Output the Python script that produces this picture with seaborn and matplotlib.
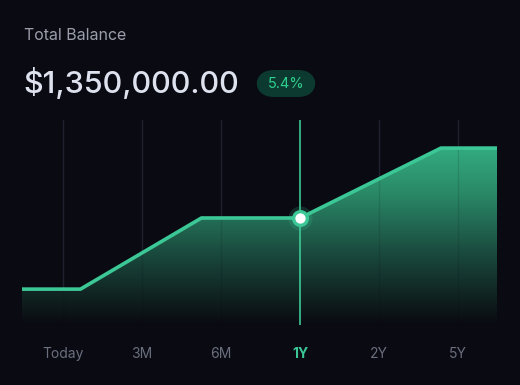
import numpy as np
import pandas as pd
import seaborn as sns
import matplotlib.pyplot as plt
from matplotlib.colors import LinearSegmentedColormap
from matplotlib.patches import FancyBboxPatch

# Chart data (x in tick units, balance on a 0-100 scale)
periods = ["Today", "3M", "6M", "1Y", "2Y", "5Y"]
x_points = [-0.52, 0.22, 1.75, 3.0, 4.78, 5.49]
balance = [17.5, 17.5, 52.2, 52.2, 86.3, 86.3]
selected = "1Y"
selected_value = 52.2
title = "Total Balance"
total = "$1,350,000.00"
change = "5.4%"

bg = "#0a0a12"
green = "#3cc896"
grid_col = "#222633"
label_col = "#6a6f7e"

sns.set_theme(style="dark")
plt.rcParams["font.family"] = ["Inter", "DejaVu Sans"]

fig = plt.figure(figsize=(5.2, 3.85), dpi=100, facecolor=bg)
ax = fig.add_axes([22 / 520, 60 / 385, 475 / 520, 205 / 385])
ax.set_facecolor(bg)

df = pd.DataFrame({"x": x_points, "balance": balance})

# gradient area under the line
cmap = LinearSegmentedColormap.from_list(
    "area", [(0.0, bg), (0.12, "#0f1f1e"), (0.35, "#1a4a3e"), (0.65, "#2a8a68"), (1.0, "#38bf8e")]
)
grad = np.linspace(0, 1, 256).reshape(-1, 1)
img = ax.imshow(grad, extent=[x_points[0], x_points[-1], 0, 100], origin="lower",
                aspect="auto", cmap=cmap, zorder=1)
poly = ax.fill_between(df["x"], 0, df["balance"], color="none", lw=0)
clip = poly.get_paths()[0]
img.set_clip_path(clip, transform=ax.transData)

# vertical grid lines
for i, p in enumerate(periods):
    if p == selected:
        ax.plot([i, i], [0, 100], color=green, lw=1.2, zorder=3)
    else:
        ax.plot([i, i], [0, 100], color=grid_col, lw=1, zorder=0)
        ax.plot([i, i], [0, 100], color="#0a0a12", lw=1, alpha=0.12, zorder=2)

sns.lineplot(data=df, x="x", y="balance", ax=ax, color=green, lw=2.6,
             zorder=4, solid_capstyle="butt")

# highlighted point with glow
sel_i = periods.index(selected)
ax.scatter([sel_i], [selected_value], s=300, color=green, alpha=0.18, lw=0, zorder=5)
ax.scatter([sel_i], [selected_value], s=150, color=green, lw=0, zorder=6)
ax.scatter([sel_i], [selected_value], s=55, color="white", lw=0, zorder=7)

ax.set_xlim(x_points[0], x_points[-1])
ax.set_ylim(0, 100)
ax.set_xticks(range(len(periods)))
ax.set_xticklabels(periods)
ax.tick_params(axis="x", length=0, pad=16, labelsize=10, labelcolor=label_col)
for lab in ax.get_xticklabels():
    if lab.get_text() == selected:
        lab.set_color(green)
        lab.set_fontweight("bold")
ax.set_yticks([])
ax.set_xlabel("")
ax.set_ylabel("")
ax.grid(False)
for s in ax.spines.values():
    s.set_visible(False)

# header texts
fig.text(24 / 520, 1 - 35 / 385, title, color="#9a9eab", fontsize=11.5, va="center", ha="left")
fig.text(23 / 520, 1 - 83 / 385, total, color="#dde2ee", fontsize=22, fontweight="medium",
         va="center", ha="left")
badge = FancyBboxPatch((256 / 520, 1 - 97 / 385), 60 / 520, 27 / 385,
                       boxstyle="round,pad=0,rounding_size=0.035", transform=fig.transFigure,
                       facecolor="#0d3a30", edgecolor="none", mutation_aspect=520 / 385)
fig.patches.append(badge)
fig.text(286 / 520, 1 - 83.5 / 385, change, color="#2fcf8f", fontsize=10.5, va="center", ha="center")

fig.savefig("out.png", dpi=100, facecolor=bg)
